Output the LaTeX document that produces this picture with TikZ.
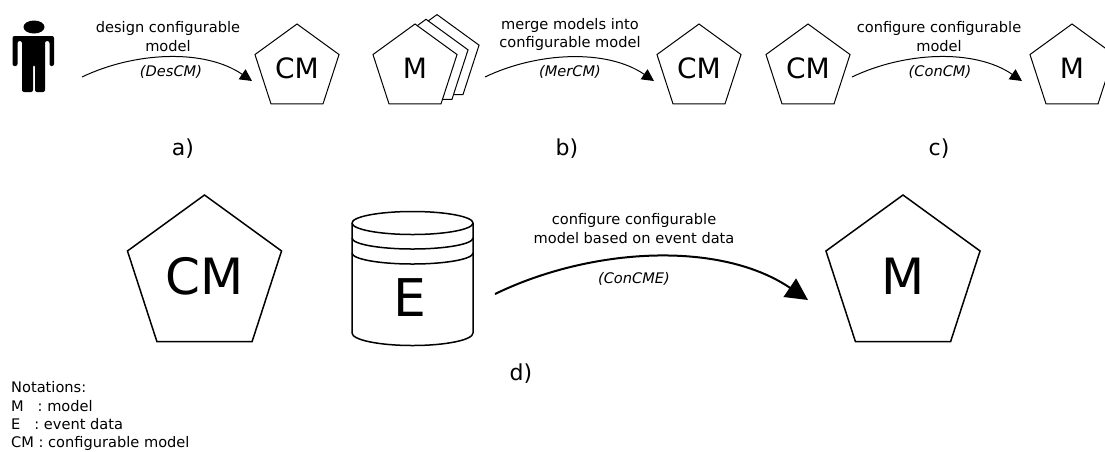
\documentclass[tikz,border=0pt]{standalone}
\usepackage{fontspec}
\setmainfont{DejaVu Sans}
\usetikzlibrary{shapes.geometric,arrows.meta}
\tikzset{
	smallpent/.style={draw, fill=white, regular polygon, regular polygon sides=5, inner sep=0pt, minimum size=88.4pt, line width=1pt, font=\fontsize{28}{30}\selectfont},
	bigpent/.style={draw, fill=white, regular polygon, regular polygon sides=5, inner sep=0pt, minimum size=162pt, line width=1.5pt, font=\fontsize{50}{55}\selectfont},
	txt/.style={align=center, inner sep=0pt, font=\fontsize{14.6}{18.8}\selectfont},
	tag/.style={inner sep=0pt, font=\fontsize{14.6}{16}\itshape\selectfont},
	letter/.style={inner sep=0pt, font=\fontsize{22}{24}\selectfont},
	flow/.style={line width=1pt, -{Triangle[length=12pt,width=12pt]}},
	bigflow/.style={line width=2pt, -{Triangle[length=22pt,width=22pt]}},
}
\begin{document}
\begin{tikzpicture}[x=1pt, y=-1pt]
	\useasboundingbox (0,0) rectangle (1105,451);

	% a)
	\fill (34,27) ellipse (10.5 and 6.5);
	\fill[rounded corners=2pt] (12.5,36) -- (54,36) -- (54,66) -- (49.5,66) -- (49.5,41) -- (45,41) -- (45,92) -- (35,92) -- (35,65) -- (33,65) -- (33,92) -- (22,92) -- (22,41) -- (17.5,41) -- (17.5,66) -- (12.5,66) -- cycle;
	\node[smallpent] at (297,68.2) (cma) {CM};
	\coordinate (sa) at (82,77);
	\coordinate (ea) at (252,81);
	\draw[flow] (sa) to[relative, out=27, in=147, looseness=0.87] (ea);
	\node[txt] at (168,36.5) (la) {design configurable\\model};
	\node[tag] at (171,72) (ta) {(DesCM)};
	\node[letter] at (183,149) (a) {a)};

	% b)
	\foreach \i in {2,1} {
		\node[smallpent] at (415+11*\i,68.2-4.7*\i) (mb\i) {};
	}
	\node[smallpent] at (415,68.2) (mb) {M};
	\node[smallpent] at (699,68.2) (cmb) {CM};
	\coordinate (sb) at (485,77);
	\coordinate (eb) at (654,81);
	\draw[flow] (sb) to[relative, out=27, in=147, looseness=0.87] (eb);
	\node[txt] at (570,34.5) (lb) {merge models into\\configurable model};
	\node[tag] at (570,72) (tb) {(MerCM)};
	\node[letter] at (567,149) (b) {b)};

	% c)
	\node[smallpent] at (808,68.2) (cmc) {CM};
	\node[smallpent] at (1072,68.2) (mc) {M};
	\coordinate (sc) at (852,77);
	\coordinate (ec) at (1022,81);
	\draw[flow] (sc) to[relative, out=27, in=147, looseness=0.87] (ec);
	\node[txt] at (939,36.5) (lc) {configure configurable\\model};
	\node[tag] at (940,72) (tc) {(ConCM)};
	\node[letter] at (939,149) (c) {c)};

	% d)
	\node[bigpent] at (204.5,276) (cmd) {CM};
	\draw[line width=1.5pt] (352,223) arc[start angle=180, end angle=-180, x radius=60.5, y radius=11.5];
	\draw[line width=1.5pt] (352,223) -- (352,333) arc[start angle=180, end angle=360, x radius=60.5, y radius=-12.5] -- (473,223);
	\draw[line width=1.5pt] (352,238) arc[start angle=180, end angle=360, x radius=60.5, y radius=-11];
	\draw[line width=1.5pt] (352,253) arc[start angle=180, end angle=360, x radius=60.5, y radius=-11];
	\node[inner sep=0pt, font=\fontsize{52}{60}\selectfont] at (410,298) (e) {E};
	\node[bigpent] at (903,276) (md) {M};
	\coordinate (sd) at (495,294);
	\coordinate (ed) at (808,300);
	\draw[bigflow] (sd) to[relative, out=27, in=147, looseness=0.87] (ed);
	\node[txt] at (634,228.5) (ld) {configure configurable\\model based on event data};
	\node[tag] at (634,279) (td) {(ConCME)};
	\node[letter] at (521,374) (d) {d)};

	% notations
	\node[anchor=north west, align=left, inner sep=0pt, font=\fontsize{14.6}{18.3}\selectfont] at (11,381.5) (notes) {Notations:\\M\ \ \ : model\\E\ \ \ : event data\\CM : configurable model};
\end{tikzpicture}
\end{document}
